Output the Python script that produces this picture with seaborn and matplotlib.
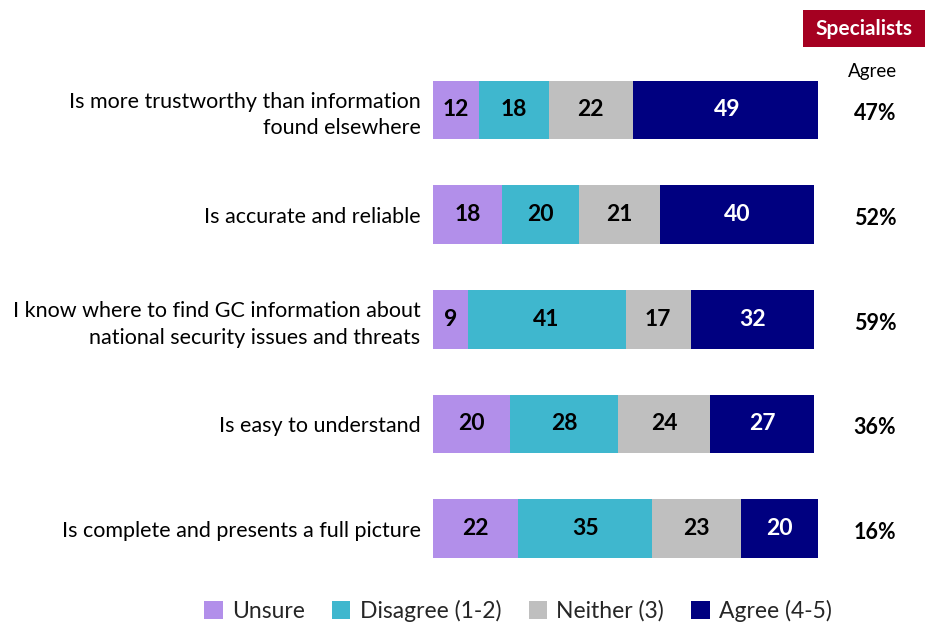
import matplotlib
matplotlib.use("Agg")
import matplotlib.pyplot as plt
from matplotlib.patches import Patch, Rectangle
import numpy as np
import pandas as pd
import seaborn as sns

# Survey statements and response shares (%)
statements = [
    "Is more trustworthy than information\nfound elsewhere",
    "Is accurate and reliable",
    "I know where to find GC information about\nnational security issues and threats",
    "Is easy to understand",
    "Is complete and presents a full picture",
]
unsure = [12, 18, 9, 20, 22]
disagree = [18, 20, 41, 28, 35]
neither = [22, 21, 17, 24, 23]
agree = [49, 40, 32, 27, 20]
specialists_agree = ["47%", "52%", "59%", "36%", "16%"]

series_names = ["Unsure", "Disagree (1-2)", "Neither (3)", "Agree (4-5)"]
series_colors = ["#B28FEA", "#3FB7CE", "#BFBFBF", "#000080"]
label_colors = ["black", "black", "black", "white"]

sns.set_theme(style="white")
plt.rcParams["font.family"] = ["Lato", "DejaVu Sans"]

df = pd.DataFrame({
    "statement": statements,
    "Unsure": unsure,
    "Disagree (1-2)": disagree,
    "Neither (3)": neither,
    "Agree (4-5)": agree,
})
cum = df[series_names].cumsum(axis=1)
cum["statement"] = df["statement"]

W, H = 927, 625
fig = plt.figure(figsize=(W / 100, H / 100), dpi=100)
ax = fig.add_axes([433 / W, 44 / H, 385 / W, 523.4 / H])

# Stacked bars: draw cumulative totals from the longest down so each
# segment shows its own colour.
for name, color in reversed(list(zip(series_names, series_colors))):
    sns.barplot(data=cum, x=name, y="statement", orient="h", color=color,
                saturation=1, width=0.56, linewidth=0, edgecolor="none", ax=ax)

# Segment value labels
for i in range(len(statements)):
    left = 0
    for name, tc in zip(series_names, label_colors):
        v = df.loc[i, name]
        ax.text(left + v / 2, i, str(v), ha="center", va="center",
                fontsize=16.5, fontweight="bold", color=tc)
        left += v

ax.set_xlim(0, 100)
ax.set_xlabel("")
ax.set_ylabel("")
ax.set_xticks([])
ax.tick_params(axis="y", length=0, pad=9, labelsize=15.5, labelcolor="black")
for lbl in ax.get_yticklabels():
    lbl.set_linespacing(1.4)
for s in ax.spines.values():
    s.set_visible(False)

# Specialists "Agree" column, set slightly below each bar's centre line
fig.text(873 / W, 1 - 72 / H, "Agree", ha="center", va="center", fontsize=13.5,
         color="black")
for i, txt in enumerate(specialists_agree):
    y_disp = ax.transData.transform((0, i))[1] - 4
    fig.text(875 / W, y_disp / H, txt, ha="center", va="center", fontsize=15.5,
             fontweight="bold", color="black")

# Header box
fig.patches.append(Rectangle((803 / W, 1 - 47 / H), 122 / W, 37 / H,
                             transform=fig.transFigure, facecolor="#A50021",
                             edgecolor="none"))
fig.text(864 / W, 1 - 29 / H, "Specialists", ha="center", va="center",
         fontsize=15, fontweight="bold", color="white")

# Legend
handles = [Patch(facecolor=c, edgecolor="none") for c in series_colors]
fig.legend(handles, series_names, loc="center", bbox_to_anchor=(518 / W, 1 - 611 / H),
           ncol=4, frameon=False, fontsize=16.5, handlelength=0.8, handleheight=0.8,
           handletextpad=0.4, columnspacing=1.2, borderaxespad=0)

fig.savefig("out.png", dpi=100)
